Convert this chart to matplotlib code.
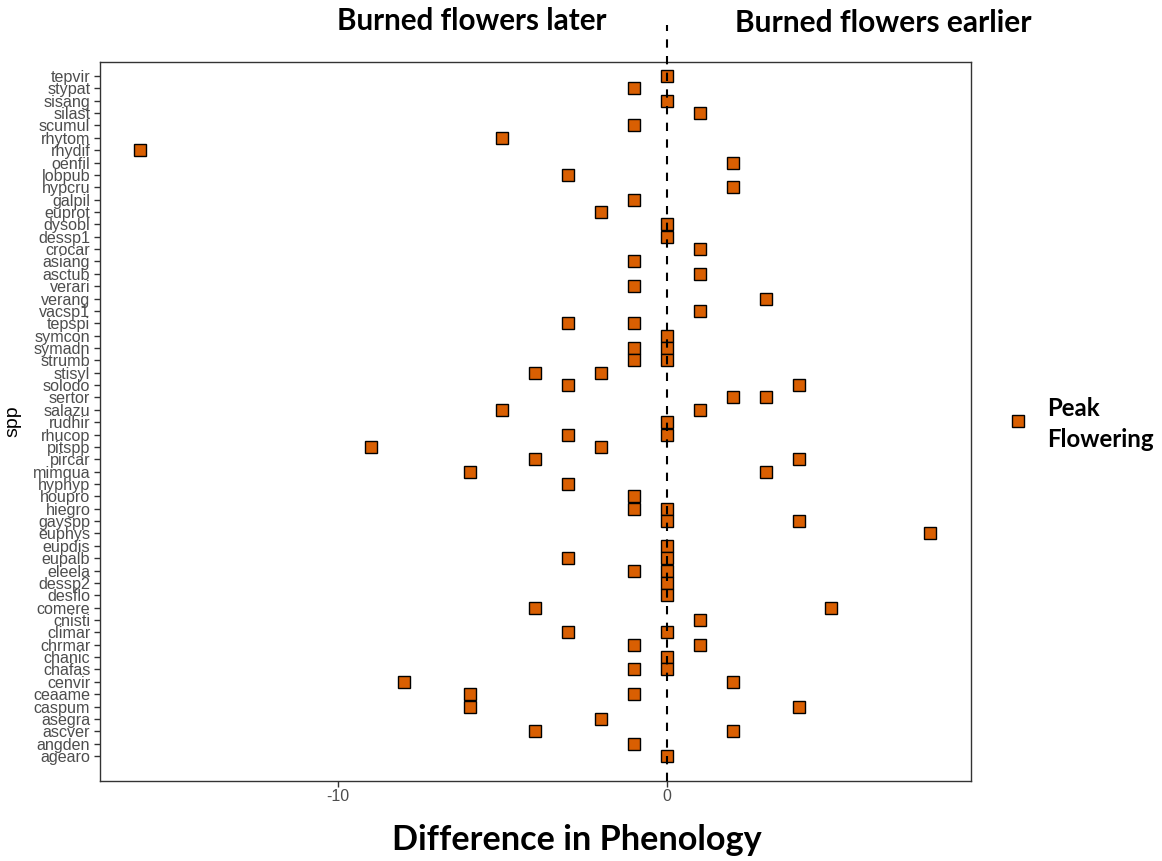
import matplotlib
matplotlib.use("Agg")
import matplotlib.pyplot as plt
from matplotlib.lines import Line2D

# species, top of chart to bottom
species = ["tepvir", "stypat", "sisang", "silast", "scumul", "rhytom", "rhydif",
           "oenfil", "lobpub", "hypcru", "galpil", "euprot", "dysobl", "dessp1",
           "crocar", "asiang", "asctub", "verari", "verang", "vacsp1", "tepspi",
           "symcon", "symadn", "strumb", "stisyl", "solodo", "sertor", "salazu",
           "rudhir", "rhucop", "pitspp", "pircar", "mimqua", "hyphyp", "houpro",
           "hiegro", "gayspp", "euphys", "eupdis", "eupalb", "eleela", "dessp2",
           "desflo", "comere", "cnisti", "climar", "chrmar", "chanic", "chafas",
           "cenvir", "ceaame", "caspum", "asegra", "ascver", "angden", "agearo"]

# difference in peak flowering (one or two obs per species)
peak_days = [[0], [-1], [0], [1], [-1], [-5], [-16],
             [2], [-3], [2], [-1], [-2], [0], [0],
             [1], [-1], [1], [-1], [3], [1], [-3, -1],
             [0], [-1, 0], [-1, 0], [-4, -2], [-3, 4], [2, 3], [-5, 1],
             [0], [-3, 0], [-9, -2], [-4, 4], [-6, 3], [-3], [-1],
             [-1, 0], [0, 4], [8], [0], [-3, 0], [-1, 0], [0],
             [0], [-4, 5], [1], [-3, 0], [-1, 1], [0], [-1, 0],
             [-8, 2], [-6, -1], [-6, 4], [-2], [-4, 2], [-1], [0]]

x_ticks = [-10, 0]

orange = "#D95F02"
gray_txt = "#4D4D4D"
title_font = "Lato"

fig = plt.figure(figsize=(11.62, 8.61), dpi=100)
ax = fig.add_axes([100 / 1162, 1 - 781 / 861, 871 / 1162, 719 / 861])

n = len(species)
xs, ys = [], []
for i, vals in enumerate(peak_days):
    for v in vals:
        xs.append(v)
        ys.append(n - 1 - i)

ax.plot(xs, ys, linestyle="none", marker="s", markersize=8.8,
        markerfacecolor=orange, markeredgecolor="black", markeredgewidth=1.0,
        zorder=3)

top_ext = (781 - 25) / (781 - 62)
ax.axvline(0, ymin=0, ymax=top_ext, color="black", linestyle=(0, (4, 4)),
           linewidth=1.5, clip_on=False, zorder=4)

ax.set_xlim(-17.23, 9.24)
ax.set_ylim(-2.02, n - 1 + 1.13)

ax.set_yticks(range(n))
ax.set_yticklabels(species[::-1], family="Liberation Sans", fontsize=11.6,
                   color=gray_txt)
ax.set_xticks(x_ticks)
ax.set_xticklabels([str(t) for t in x_ticks], family="Liberation Sans",
                   fontsize=11.5, color=gray_txt)
ax.tick_params(axis="both", length=4, width=1, color="#333333", pad=2)
ax.tick_params(axis="y", pad=3)
for s in ax.spines.values():
    s.set_color("#333333")
    s.set_linewidth(1.0)

ax.set_ylabel("spp", family="Liberation Sans", fontsize=14, color="black",
              labelpad=8)

fig.text(472 / 1162, 1 - 21 / 861, "Burned flowers later", family=title_font,
         fontweight="bold", fontsize=21.3, ha="center", va="center")
fig.text(883 / 1162, 1 - 23 / 861, "Burned flowers earlier", family=title_font,
         fontweight="bold", fontsize=21.5, ha="center", va="center")
fig.text(577 / 1162, 1 - 840 / 861, "Difference in Phenology", family=title_font,
         fontweight="bold", fontsize=24.7, ha="center", va="center")

# legend
fig.add_artist(Line2D([1018 / 1162], [1 - 421 / 861], linestyle="none",
                      marker="s", markersize=8.8, markerfacecolor=orange,
                      markeredgecolor="black", markeredgewidth=1.0,
                      transform=fig.transFigure))
fig.text(1047 / 1162, 1 - 424 / 861, "Peak\nFlowering", family=title_font,
         fontweight="bold", fontsize=17.3, ha="left", va="center",
         linespacing=1.45)

fig.savefig("out.png", dpi=100, facecolor="white")
